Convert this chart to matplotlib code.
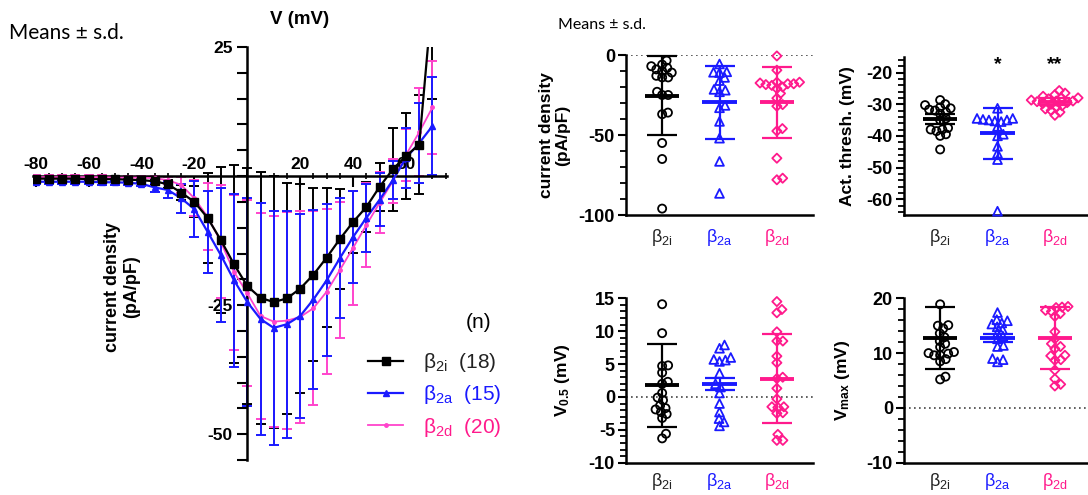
import numpy as np
import matplotlib
matplotlib.use('Agg')
import matplotlib.pyplot as plt
from matplotlib.ticker import MultipleLocator, FixedLocator, FuncFormatter, NullFormatter

plt.rcParams['font.family'] = ['Liberation Sans', 'DejaVu Sans']
plt.rcParams['mathtext.default'] = 'regular'
plt.rcParams['axes.unicode_minus'] = False

# ---------------- data ----------------
voltage = [-80, -75, -70, -65, -60, -55, -50, -45, -40, -35, -30, -25, -20, -15, -10,
           -5, 0, 5, 10, 15, 20, 25, 30, 35, 40, 45, 50, 55, 60, 65, 70]

iv_b2i_mean = [-0.5, -0.5, -0.5, -0.5, -0.6, -0.6, -0.6, -0.7, -0.8, -1.0, -1.6, -3.2, -5.0, -8.1, -12.4,
               -17.1, -21.3, -23.6, -24.4, -23.7, -21.8, -19.1, -15.8, -12.2, -8.9, -6.0, -2.1, 1.3, 3.9, 6.1, 35.0]
iv_b2i_sd = [0.3, 0.3, 0.3, 0.3, 0.3, 0.3, 0.3, 0.3, 0.3, 0.5, 0.8, 1.5, 3.0, 8.7, 14.1,
             19.2, 22.8, 24.4, 24.4, 22.3, 20.2, 16.7, 13.4, 9.7, 6.0, 4.9, 4.6, 8.0, 8.4, 9.6, 20.0]

iv_b2a_mean = [-1.1, -1.1, -1.1, -1.1, -1.1, -1.2, -1.2, -1.3, -1.5, -2.2, -2.7, -4.3, -6.4, -10.8, -15.3,
               -20.2, -24.4, -27.7, -29.4, -28.7, -27.1, -23.9, -20.2, -15.9, -11.8, -8.1, -4.6, -0.8, 3.5, 6.4, 9.7]
iv_b2a_sd = [0.5, 0.5, 0.5, 0.5, 0.5, 0.5, 0.5, 0.5, 0.5, 0.8, 1.5, 2.8, 5.4, 7.9, 12.9,
             16.8, 20.2, 22.5, 22.7, 22.0, 19.8, 17.4, 14.7, 11.6, 8.9, 6.6, 5.1, 3.7, 5.9, 7.7, 9.5]

iv_b2d_mean = [-0.2, -0.2, -0.2, -0.2, -0.2, -0.2, -0.3, -0.3, -0.3, -0.4, -0.8, -1.7, -4.3, -7.9, -12.7,
               -18.6, -22.7, -27.1, -28.2, -28.0, -27.3, -25.6, -22.4, -18.2, -13.9, -9.5, -5.2, -1.0, 4.1, 8.5, 13.3]
iv_b2d_sd = [0.4, 0.4, 0.4, 0.4, 0.4, 0.4, 0.4, 0.4, 0.4, 0.5, 0.7, 1.5, 3.5, 6.5, 11.0,
             15.0, 18.0, 20.0, 20.5, 21.0, 20.6, 18.8, 16.0, 13.2, 11.1, 8.1, 5.9, 4.3, 5.0, 8.5, 9.0]

group_labels = [r'β$_{2i}$', r'β$_{2a}$', r'β$_{2d}$']
group_n = [18, 15, 20]

iv_xtick_labels = [-80, -60, -40, -20, 20, 40, 60]
iv_ytick_labels = [25, -25, -50]

# current density (pA/pF)
cd_b2i = [-3.5, -6, -7, -8, -9, -10, -11, -13, -14, -14, -23, -25, -25, -36, -37, -55, -65, -96]
cd_b2a = [-5.6, -10.5, -10.8, -11, -14, -16, -21.5, -22, -23, -31.5, -33, -41.5, -52, -66.5, -86.5]
cd_b2d = [-0.6, -9.5, -17, -17, -17.5, -18, -18, -18.5, -19, -20, -21, -24, -27, -31, -32,
          -46, -47.5, -64.5, -77, -78]
cd_mean = [-25.4, -29.6, -29.6]
cd_sd = [24.6, 23.0, 22.0]

# activation threshold (mV)
at_b2i = [-28.7, -30, -30.3, -31, -31.3, -31.7, -32, -32.5, -33, -34.5, -35, -37.5, -38, -38,
          -38.5, -39.5, -40, -44.3]
at_b2a = [-31.3, -34.5, -34.5, -34.8, -35, -35, -35.3, -35.5, -37, -39.5, -40, -43.3, -45.5, -47.5, -63.8]
at_b2d = [-25.7, -26.5, -27, -27.5, -28, -28, -28.3, -28.7, -29, -29, -29.2, -29.5, -29.8, -30,
          -30.5, -31, -31.5, -32, -32.5, -33.5]
at_mean = [-34.7, -39.2, -29.2]
at_sd = [1.5, 8.0, 1.0]
at_signif = ['', '*', '**']
at_signif_y = -17.6

# V0.5 (mV)
v05_b2i = [14.1, 9.7, 4.8, 4.7, 3.7, 2.3, 2.0, 0.6, -0.1, -0.5, -1.3, -1.7, -1.9, -2.3, -2.6, -3.2, -5.6, -6.3]
v05_b2a = [7.9, 7.4, 6.0, 5.7, 5.6, 5.4, 3.6, 2.0, 1.5, 0.6, -1.0, -2.3, -3.3, -3.8, -4.4]
v05_b2d = [14.5, 13.3, 12.8, 9.9, 8.5, 8.5, 6.2, 5.2, 3.0, 2.8, 1.3, -0.3, -1.5, -1.6, -1.5,
           -2.4, -2.5, -5.7, -6.6, -6.6]
v05_mean = [1.8, 2.0, 2.8]
v05_sd = [6.3, 0.9, 6.8]

# Vmax (mV)
vmax_b2i = [18.9, 15.1, 15.0, 14.5, 13.6, 12.9, 12.2, 11.7, 11.1, 10.2, 10.0, 9.9, 9.6, 9.6, 8.9, 8.5, 5.7, 5.2]
vmax_b2a = [17.4, 16.1, 15.9, 15.5, 15.3, 14.8, 14.3, 13.7, 13.1, 12.6, 11.4, 11.2, 9.0, 8.8, 8.4]
vmax_b2d = [18.5, 18.4, 18.3, 17.8, 17.6, 17.2, 16.7, 13.9, 12.6, 11.7, 11.2, 10.8, 9.6, 9.5,
            8.8, 8.7, 6.9, 5.3, 4.3, 4.0]
vmax_mean = [12.8, 12.8, 12.8]
vmax_sd = [5.7, 0.7, 5.7]

# ---------------- style ----------------
BLACK = '#000000'
BLUE = '#1a1aff'
PINK_IV = '#ff44cc'
PINK = '#ff1a8c'
TXT_COLORS = ['#222222', BLUE, PINK]
SC_COLORS = [BLACK, BLUE, PINK]
MARKERS = ['o', '^', 'D']
MSIZE = [34, 40, 22]

W, H = 1088, 495
fig = plt.figure(figsize=(W / 100, H / 100), dpi=100)


def px_rect(x0, y0, x1, y1):
    return [x0 / W, 1 - y1 / H, (x1 - x0) / W, (y1 - y0) / H]


# ---------------- IV curve ----------------
ax = fig.add_axes(px_rect(33, 47, 447, 460))
ax.set_xlim(-81, 75.5)
ax.set_ylim(-55, 25)
for s in ['top', 'right']:
    ax.spines[s].set_visible(False)
ax.spines['left'].set_position(('data', 0))
ax.spines['bottom'].set_position(('data', 0))
for s in ['left', 'bottom']:
    ax.spines[s].set_linewidth(1.8)

series = [
    (iv_b2i_mean, iv_b2i_sd, BLACK, 's', 5.5, 1.6),
    (iv_b2a_mean, iv_b2a_sd, BLUE, '^', 5.0, 1.6),
    (iv_b2d_mean, iv_b2d_sd, PINK_IV, 'o', 2.5, 1.3),
]
err_z = [2.0, 2.2, 2.1]
line_z = [3.2, 3.1, 3.0]
handles = []
for (m, sd, c, mk, ms, lw), ez, lz in zip(series, err_z, line_z):
    ax.errorbar(voltage, m, yerr=sd, fmt='none', ecolor=c, elinewidth=1.4,
                capsize=3.5, capthick=1.4, zorder=ez)
    ln, = ax.plot(voltage, m, color=c, lw=lw, marker=mk, ms=ms, zorder=lz)
    handles.append(ln)

ax.xaxis.set_major_locator(FixedLocator(iv_xtick_labels))
ax.xaxis.set_minor_locator(MultipleLocator(5))
ax.xaxis.set_major_formatter(NullFormatter())
ax.tick_params(axis='x', which='major', direction='out', length=8, width=1.5)
ax.tick_params(axis='x', which='minor', direction='inout', length=4, width=1.2)
for v in iv_xtick_labels:
    ax.annotate(f'{v}', xy=(v, 0), xytext=(0, 3), textcoords='offset points',
                ha='center', va='bottom', fontsize=12.5, fontweight='bold')

ax.yaxis.set_major_locator(MultipleLocator(5))
ax.yaxis.set_major_formatter(FuncFormatter(lambda v, p: f'{v:.0f}' if round(v) in iv_ytick_labels else ''))
ax.tick_params(axis='y', which='major', direction='out', length=7, width=1.5,
               labelsize=12.5)
for t in ax.get_yticklabels():
    t.set_fontweight('bold')

fig.text(122 / W, 1 - 287 / H, 'current density\n(pA/pF)', rotation=90, ha='center',
         va='center', fontsize=13, fontweight='bold', linespacing=1.1)
fig.text(300 / W, 1 - 20 / H, 'V (mV)', ha='center', va='center', fontsize=13.5, fontweight='bold')
fig.text(9 / W, 1 - 33 / H, 'Means ± s.d.', ha='left', va='center', fontsize=15,
         family=['Lato', 'DejaVu Sans'])
fig.text(558 / W, 1 - 25 / H, 'Means ± s.d.', ha='left', va='center', fontsize=11.5,
         family=['Lato', 'DejaVu Sans'])

labels = [f'{g}  ({n})' for g, n in zip(group_labels, group_n)]
leg = fig.legend(handles, labels, loc='upper left', bbox_to_anchor=(368 / W, 1 - 351 / H),
                 frameon=False, fontsize=15, handlelength=1.7, handletextpad=0.95,
                 labelspacing=0.45, borderpad=0, borderaxespad=0)
for t, c in zip(leg.get_texts(), TXT_COLORS):
    t.set_color(c)
fig.text(479 / W, 1 - 322 / H, '(n)', ha='center', va='center', fontsize=15)


# ---------------- scatter panels ----------------
def swarm_x(axx, values, x0, diam):
    vals = np.asarray(values, dtype=float)
    tr = axx.transData
    ys = tr.transform(np.column_stack([np.full(len(vals), x0), vals]))[:, 1]
    px0 = tr.transform((x0, 0))[0]
    ppu = tr.transform((x0 + 1, 0))[0] - px0
    order = np.argsort(ys)
    placed = []
    offs = np.zeros(len(vals))
    for i in order:
        y = ys[i]
        cands = [0.0]
        for (px, py) in placed:
            dy = y - py
            if abs(dy) < diam:
                dx = np.sqrt(diam ** 2 - dy ** 2)
                cands += [px + dx, px - dx]
        cands.sort(key=abs)
        for cnd in cands:
            if all((cnd - px) ** 2 + (y - py) ** 2 >= diam ** 2 - 1e-6 for px, py in placed):
                offs[i] = cnd
                placed.append((cnd, y))
                break
    return x0 + offs / ppu


def panel(rect, groups, means, sds, ylim, major, minor, ylabel, label_x, xpad,
          zero_line=True):
    a = fig.add_axes(rect)
    a.set_xlim(-0.63, 2.63)
    a.set_ylim(*ylim)
    for s in ['top', 'right']:
        a.spines[s].set_visible(False)
    for s in ['left', 'bottom']:
        a.spines[s].set_linewidth(1.8)
    if zero_line:
        a.axhline(0, color='#444444', lw=1.2, ls=(0, (1, 2)), zorder=1)
    for i, (vals, m, sd) in enumerate(zip(groups, means, sds)):
        xs = swarm_x(a, vals, i, 6.0)
        a.scatter(xs, vals, s=MSIZE[i], marker=MARKERS[i], facecolors='none',
                  edgecolors=SC_COLORS[i], linewidths=1.3, zorder=3, clip_on=False)
        a.errorbar([i], [m], yerr=[sd], fmt='none', ecolor=SC_COLORS[i], elinewidth=1.6,
                   capsize=11, capthick=1.6, zorder=4, clip_on=False)
        a.hlines(m, i - 0.3, i + 0.3, color=SC_COLORS[i], lw=2.8, zorder=5)
    a.set_xticks([0, 1, 2])
    a.set_xticklabels(group_labels, fontsize=13)
    for t, c in zip(a.get_xticklabels(), TXT_COLORS):
        t.set_color(c)
    a.tick_params(axis='x', length=0, pad=xpad)
    a.yaxis.set_major_locator(MultipleLocator(major))
    a.yaxis.set_minor_locator(MultipleLocator(minor))
    a.tick_params(axis='y', which='major', length=6, width=1.5, labelsize=13, pad=2)
    a.tick_params(axis='y', which='minor', length=4, width=1.3)
    for t in a.get_yticklabels():
        t.set_fontweight('bold')
    a.set_ylabel(ylabel, fontsize=12.5, fontweight='bold', linespacing=1.1)
    a.yaxis.set_label_coords(label_x, 0.5)
    return a


ax1 = panel(px_rect(626, 55, 813, 215), [cd_b2i, cd_b2a, cd_b2d], cd_mean, cd_sd,
            (-100, 0), 50, 10, 'current density\n(pA/pF)', -0.30, 9)
ax2 = panel(px_rect(904, 56.7, 1091, 215), [at_b2i, at_b2a, at_b2d], at_mean, at_sd,
            (-65, -15), 10, 2, 'Act. thresh. (mV)', -0.26, 9, zero_line=False)
for i, s in enumerate(at_signif):
    if s:
        ax2.text(i, at_signif_y, s, ha='center', va='center', fontsize=14, fontweight='bold')
ax3 = panel(px_rect(626, 298.3, 813, 462.7), [v05_b2i, v05_b2a, v05_b2d], v05_mean, v05_sd,
            (-10, 15), 5, 1, r'V$_{0.5}$ (mV)', -0.29, 6)
ax4 = panel(px_rect(904, 298.3, 1091, 462.7), [vmax_b2i, vmax_b2a, vmax_b2d], vmax_mean, vmax_sd,
            (-10, 20), 10, 2, r'V$_{max}$ (mV)', -0.28, 6)

fig.savefig('out.png', dpi=100)
